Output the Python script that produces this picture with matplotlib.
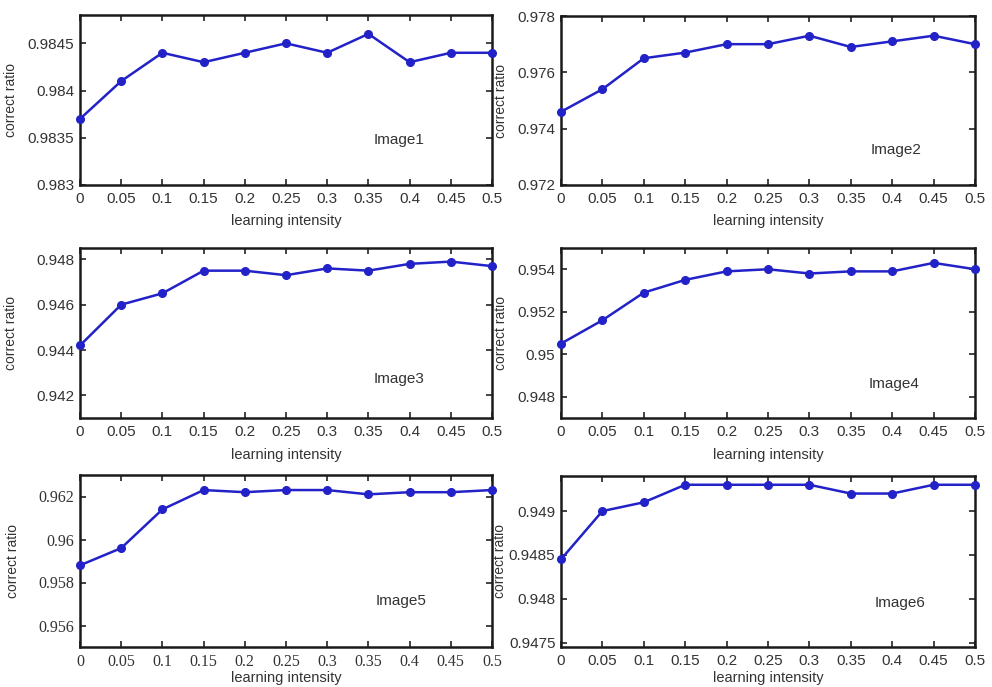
import matplotlib
matplotlib.use("Agg")
import matplotlib.pyplot as plt
from matplotlib.ticker import FixedLocator

# learning intensity values shared by every panel
intensity = [0, 0.05, 0.1, 0.15, 0.2, 0.25, 0.3, 0.35, 0.4, 0.45, 0.5]
x_tick_labels = ["0", "0.05", "0.1", "0.15", "0.2", "0.25", "0.3", "0.35", "0.4", "0.45", "0.5"]

# correct ratio per test image
image1 = [0.9837, 0.9841, 0.9844, 0.9843, 0.9844, 0.9845, 0.9844, 0.9846, 0.9843, 0.9844, 0.9844]
image2 = [0.9746, 0.9754, 0.9765, 0.9767, 0.9770, 0.9770, 0.9773, 0.9769, 0.9771, 0.9773, 0.9770]
image3 = [0.9442, 0.9460, 0.9465, 0.9475, 0.9475, 0.9473, 0.9476, 0.9475, 0.9478, 0.9479, 0.9477]
image4 = [0.9505, 0.9516, 0.9529, 0.9535, 0.9539, 0.9540, 0.9538, 0.9539, 0.9539, 0.9543, 0.9540]
image5 = [0.9588, 0.9596, 0.9614, 0.9623, 0.9622, 0.9623, 0.9623, 0.9621, 0.9622, 0.9622, 0.9623]
image6 = [0.94845, 0.9490, 0.9491, 0.9493, 0.9493, 0.9493, 0.9493, 0.9492, 0.9492, 0.9493, 0.9493]

titles = ["Image1", "Image2", "Image3", "Image4", "Image5", "Image6"]
series = [image1, image2, image3, image4, image5, image6]

y_ticks = [
    [0.983, 0.9835, 0.984, 0.9845],
    [0.972, 0.974, 0.976, 0.978],
    [0.942, 0.944, 0.946, 0.948],
    [0.948, 0.950, 0.952, 0.954],
    [0.956, 0.958, 0.960, 0.962],
    [0.9475, 0.948, 0.9485, 0.949],
]
y_tick_labels = [
    ["0.983", "0.9835", "0.984", "0.9845"],
    ["0.972", "0.974", "0.976", "0.978"],
    ["0.942", "0.944", "0.946", "0.948"],
    ["0.948", "0.95", "0.952", "0.954"],
    ["0.956", "0.958", "0.96", "0.962"],
    ["0.9475", "0.948", "0.9485", "0.949"],
]
y_limits = [
    (0.983, 0.9848),
    (0.972, 0.978),
    (0.941, 0.9485),
    (0.947, 0.955),
    (0.955, 0.963),
    (0.94745, 0.9494),
]

W, H = 992, 687
# axes boxes in pixels: left, top, right, bottom
boxes = [
    (80, 15, 492, 185),
    (561, 16, 975, 185),
    (80, 248, 492, 418),
    (561, 248, 975, 418),
    (80, 475, 492, 647),
    (561, 476, 975, 647),
]
text_pos = [(0.775, 0.265), (0.81, 0.21), (0.775, 0.23), (0.805, 0.2), (0.78, 0.27), (0.82, 0.26)]
ylabel_x = [-0.15, -0.127, -0.15, -0.127, -0.145, -0.13]
xlabel_y = [-0.17, -0.17, -0.175, -0.175, -0.14, -0.14]

sans = "Liberation Sans"
serif = "Liberation Serif"
line_color = "#2222c8"

fig = plt.figure(figsize=(W / 100, H / 100), dpi=100)
fig.patch.set_facecolor("white")

for i, (vals, title) in enumerate(zip(series, titles)):
    l, t, r, b = boxes[i]
    ax = fig.add_axes([l / W, (H - b) / H, (r - l) / W, (b - t) / H])
    ax.plot(intensity, vals, color=line_color, linewidth=1.8,
            marker="o", markersize=5.5, markerfacecolor=line_color,
            markeredgecolor=line_color, clip_on=False, zorder=3)
    ax.set_xlim(0, 0.5)
    ax.set_ylim(*y_limits[i])

    if i == 4:
        tick_font, tick_size = serif, 11.5
    else:
        tick_font, tick_size = sans, 11
    ax.xaxis.set_major_locator(FixedLocator(intensity))
    ax.set_xticklabels(x_tick_labels, fontfamily=tick_font, fontsize=tick_size, color="#333333")
    ax.yaxis.set_major_locator(FixedLocator(y_ticks[i]))
    ax.set_yticklabels(y_tick_labels[i], fontfamily=tick_font, fontsize=tick_size, color="#333333")

    ax.tick_params(direction="in", length=4, width=1.2, top=True, right=True,
                   colors="#222222", labelcolor="#333333")
    ax.tick_params(axis="x", pad=5)
    ax.tick_params(axis="y", pad=4)
    for sp in ax.spines.values():
        sp.set_linewidth(1.8)
        sp.set_color("#1a1a1a")

    ax.set_xlabel("learning intensity", fontfamily=sans, fontsize=10.5, color="#333333")
    ax.xaxis.set_label_coords(0.5, xlabel_y[i])
    ax.set_ylabel("correct ratio", fontfamily=sans, fontsize=10, color="#333333")
    ax.yaxis.set_label_coords(ylabel_x[i], 0.5)

    ax.text(text_pos[i][0], text_pos[i][1], title, transform=ax.transAxes,
            fontfamily=sans, fontsize=11, color="#333333", ha="center", va="center")

fig.savefig("out.png", dpi=100, facecolor="white")
